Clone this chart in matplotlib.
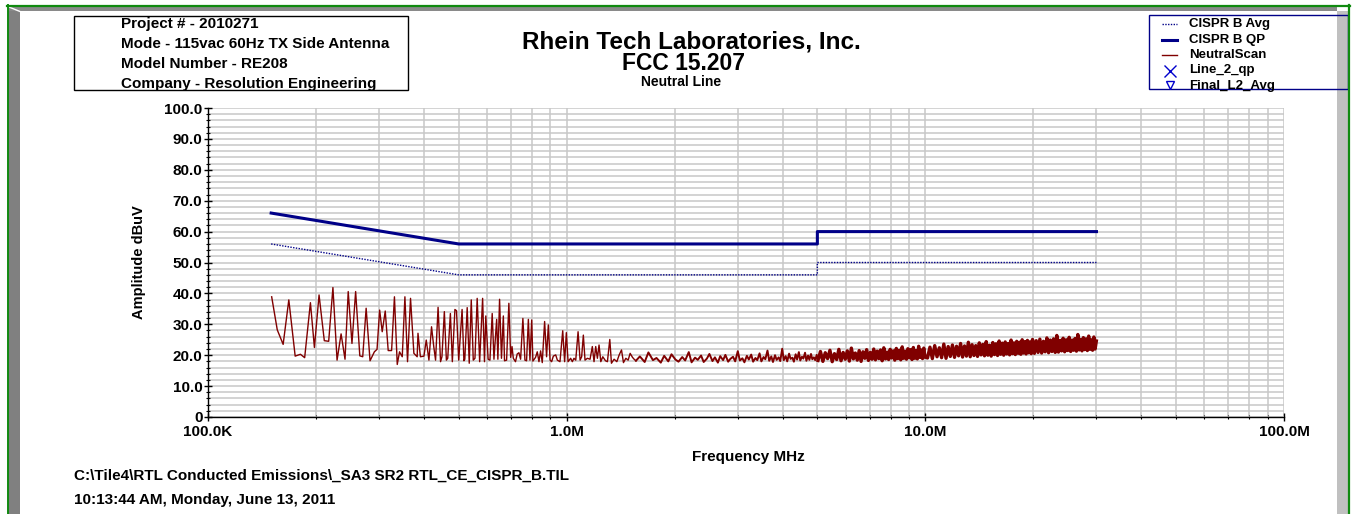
import matplotlib
matplotlib.use('Agg')
import matplotlib.pyplot as plt
from matplotlib.lines import Line2D
from matplotlib.patches import Rectangle
from matplotlib.ticker import FixedLocator, FixedFormatter, MultipleLocator, NullFormatter

plt.rcParams['font.family'] = ['Liberation Sans', 'DejaVu Sans']
plt.rcParams['font.weight'] = 'bold'

# --- limit lines (MHz, dBuV) ---
limit_freq = [0.15, 0.5, 5.0, 5.0, 30.0]
cispr_qp = [66.0, 56.0, 56.0, 60.0, 60.0]
cispr_avg = [56.0, 46.0, 46.0, 50.0, 50.0]

# --- neutral scan ---
scan_freq_a = [0.1505, 0.156, 0.162, 0.168, 0.175, 0.181, 0.186, 0.193, 0.198, 0.204,
               0.211, 0.217, 0.223, 0.229, 0.235, 0.241, 0.246, 0.252, 0.258, 0.265,
               0.270, 0.276, 0.283, 0.291, 0.296, 0.301, 0.306, 0.312, 0.318, 0.325,
               0.331, 0.337, 0.342, 0.348, 0.354, 0.360, 0.367, 0.375, 0.383, 0.385, 0.391]
scan_amp_a = [38.9, 28.2, 23.5, 37.9, 19.7, 20.3, 19.2, 37.0, 22.5, 39.5,
              24.7, 24.5, 41.9, 18.4, 26.9, 18.7, 40.6, 23.8, 40.6, 19.8,
              19.5, 35.2, 18.2, 21.1, 21.9, 34.6, 27.6, 34.3, 21.5, 21.5,
              38.9, 17.0, 21.1, 19.5, 38.9, 17.9, 38.4, 20.6, 19.5, 27.1, 19.5]

scan_freq_b = [0.400, 0.406, 0.413, 0.420, 0.426, 0.431, 0.438, 0.445, 0.449, 0.456,
               0.462, 0.466, 0.474, 0.480, 0.488, 0.493, 0.500, 0.511, 0.517, 0.520,
               0.528, 0.535, 0.542, 0.549, 0.555, 0.563, 0.572, 0.583, 0.590, 0.595,
               0.604, 0.611, 0.620, 0.627, 0.638, 0.643, 0.650, 0.658, 0.666, 0.671,
               0.680, 0.690, 0.698, 0.704, 0.710, 0.720, 0.728, 0.736, 0.744, 0.755,
               0.765, 0.773, 0.782, 0.790, 0.799, 0.805, 0.819, 0.828, 0.837, 0.846,
               0.855, 0.868, 0.879, 0.889, 0.899, 0.908, 0.918, 0.932, 0.942, 0.958,
               0.975, 0.987, 0.998, 1.009, 1.026]
scan_amp_b = [19.7, 24.9, 18.4, 29.2, 22.8, 18.4, 35.5, 17.9, 19.5, 34.1,
              18.4, 19.0, 33.5, 17.9, 34.8, 34.4, 18.4, 34.8, 18.2, 18.7,
              35.4, 17.4, 37.9, 18.4, 19.0, 38.4, 17.9, 38.4, 17.9, 32.7,
              18.7, 18.4, 33.5, 18.7, 31.6, 18.7, 38.1, 19.0, 32.7, 18.2,
              18.4, 36.8, 19.3, 22.8, 19.0, 17.9, 20.4, 20.8, 18.7, 31.9,
              18.4, 18.2, 31.6, 18.4, 31.4, 18.1, 19.3, 21.1, 17.9, 21.4,
              17.6, 30.9, 19.5, 29.8, 18.4, 17.9, 19.7, 20.1, 18.4, 17.9,
              27.9, 17.9, 27.3, 17.9, 19.0]

scan_freq_c = [1.037, 1.048, 1.060, 1.076, 1.090, 1.101, 1.113, 1.125, 1.142, 1.162,
               1.179, 1.192, 1.205, 1.218, 1.231, 1.245, 1.261, 1.283, 1.299, 1.319,
               1.333, 1.356, 1.380, 1.401, 1.422, 1.440, 1.462, 1.484, 1.503, 1.526, 1.542]
scan_amp_c = [17.9, 19.0, 18.4, 27.6, 18.4, 19.5, 26.5, 18.4, 19.0, 18.7,
              22.8, 17.9, 22.8, 19.0, 23.3, 17.9, 19.5, 18.2, 17.9, 25.1,
              17.4, 18.7, 17.9, 20.1, 21.7, 17.6, 19.0, 18.4, 20.6, 19.3, 18.7]

scan_freq_d = [1.56, 1.60, 1.65, 1.69, 1.74, 1.78, 1.83, 1.87, 1.92, 1.96,
               2.01, 2.05, 2.10, 2.14, 2.19, 2.23, 2.28, 2.32, 2.37, 2.41,
               2.46, 2.50, 2.55, 2.59, 2.64, 2.68, 2.73, 2.77, 2.82, 2.86,
               2.91, 2.95, 3.00, 3.04, 3.09, 3.13, 3.18, 3.22, 3.27, 3.31,
               3.36, 3.40, 3.45, 3.49, 3.54, 3.58, 3.63, 3.67, 3.72, 3.76,
               3.81, 3.85, 3.90, 3.94, 3.99, 4.03, 4.08, 4.12, 4.17, 4.21,
               4.26, 4.30, 4.35, 4.39, 4.44, 4.48, 4.53, 4.57, 4.62, 4.66,
               4.71, 4.75, 4.80, 4.84, 4.89, 4.93, 4.98]
scan_amp_d = [18.2, 19.6, 17.8, 20.9, 18.4, 19.1, 17.6, 19.8, 18.0, 20.3,
              18.6, 17.9, 19.4, 18.3, 21.0, 17.7, 19.2, 18.5, 19.9, 17.8,
              18.9, 20.4, 18.1, 19.3, 17.6, 19.7, 18.4, 20.1, 17.9, 18.8,
              19.5, 18.0, 21.3, 18.3, 19.0, 17.7, 19.8, 18.6, 20.2, 17.9,
              19.1, 18.4, 20.6, 18.0, 19.4, 18.7, 21.5, 18.2, 19.6, 17.8,
              20.0, 18.5, 19.3, 18.1, 22.1, 18.4, 19.7, 18.0, 20.5, 18.8,
              19.2, 17.9, 20.3, 18.6, 21.0, 18.3, 19.5, 18.9, 20.8, 18.2,
              19.9, 18.5, 20.4, 18.7, 19.3, 18.4, 20.1]

scan_freq_e = [5.02, 5.10, 5.18, 5.26, 5.34, 5.42, 5.50, 5.58, 5.66, 5.74,
               5.82, 5.90, 5.98, 6.06, 6.14, 6.22, 6.30, 6.38, 6.46, 6.54,
               6.62, 6.70, 6.78, 6.86, 6.94, 7.02, 7.10, 7.18, 7.26, 7.34,
               7.42, 7.50, 7.58, 7.66, 7.74, 7.82, 7.90, 7.98, 8.06, 8.14,
               8.22, 8.30, 8.38, 8.46, 8.54, 8.62, 8.70, 8.78, 8.86, 8.94,
               9.02, 9.10, 9.18, 9.26, 9.34, 9.42, 9.50, 9.58, 9.66, 9.74,
               9.82, 9.90, 9.98]
scan_amp_e = [18.3, 21.2, 18.0, 20.8, 18.9, 21.6, 17.9, 20.5, 18.6, 21.9,
              18.2, 20.9, 18.7, 21.4, 18.1, 22.3, 18.8, 20.7, 18.4, 21.5,
              18.0, 21.1, 19.0, 21.8, 18.3, 20.9, 18.7, 22.0, 18.5, 21.3,
              18.9, 21.7, 18.2, 22.4, 18.8, 21.0, 18.6, 21.9, 19.1, 21.4,
              18.4, 22.2, 18.9, 21.6, 18.5, 22.7, 19.0, 21.3, 18.7, 22.1,
              19.2, 21.8, 18.6, 22.5, 19.0, 21.5, 18.8, 22.9, 19.3, 21.7,
              18.9, 22.3, 19.4]

scan_freq_f = [10.14, 10.30, 10.46, 10.62, 10.78, 10.94, 11.10, 11.26, 11.42, 11.58,
               11.74, 11.90, 12.06, 12.22, 12.38, 12.54, 12.70, 12.86, 13.02, 13.18,
               13.34, 13.50, 13.66, 13.82, 13.98, 14.14, 14.30, 14.46, 14.62, 14.78,
               14.94, 15.10, 15.26, 15.42, 15.58, 15.74, 15.90, 16.06, 16.22, 16.38,
               16.54, 16.70, 16.86, 17.02, 17.18, 17.34, 17.50, 17.66, 17.82, 17.98,
               18.14, 18.30, 18.46, 18.62, 18.78, 18.94, 19.10, 19.26, 19.42, 19.58,
               19.74, 19.90]
scan_amp_f = [19.1, 22.6, 18.9, 23.1, 19.5, 22.4, 19.2, 23.6, 19.0, 22.8,
              19.6, 23.3, 19.3, 22.9, 19.8, 23.8, 19.4, 23.0, 19.7, 24.2,
              19.5, 23.4, 19.9, 23.1, 19.6, 24.0, 20.1, 23.5, 19.8, 24.4,
              20.0, 23.2, 19.7, 24.1, 20.2, 23.7, 19.9, 24.6, 20.3, 23.9,
              20.0, 24.3, 20.4, 23.8, 20.1, 24.9, 20.5, 24.0, 20.2, 24.5,
              20.6, 24.2, 20.3, 25.0, 20.7, 24.4, 20.4, 24.8, 20.8, 24.3,
              20.5, 25.1]

scan_freq_g = [20.14, 20.38, 20.62, 20.86, 21.10, 21.34, 21.58, 21.82, 22.06, 22.30,
               22.54, 22.78, 23.02, 23.26, 23.50, 23.74, 23.98, 24.22, 24.46, 24.70,
               24.94, 25.18, 25.42, 25.66, 25.90, 26.14, 26.38, 26.62, 26.86, 27.10,
               27.34, 27.58, 27.82, 28.06, 28.30, 28.54, 28.78, 29.02, 29.26, 29.50,
               29.74, 29.98]
scan_amp_g = [20.6, 24.7, 20.9, 25.2, 20.7, 24.5, 21.1, 25.6, 20.8, 24.9,
              21.2, 25.3, 20.9, 26.4, 21.0, 24.8, 21.4, 25.5, 21.1, 25.0,
              21.5, 25.8, 21.2, 24.9, 21.6, 25.4, 21.3, 26.7, 21.7, 25.1,
              21.4, 25.7, 21.8, 25.3, 21.5, 26.2, 21.9, 25.0, 21.6, 25.9,
              22.0, 24.6]

x_major = [0.1, 1.0, 10.0, 100.0]
x_major_labels = ['100.0K', '1.0M', '10.0M', '100.0M']
y_major = [0, 10, 20, 30, 40, 50, 60, 70, 80, 90, 100]
y_major_labels = ['0', '10.0', '20.0', '30.0', '40.0', '50.0', '60.0', '70.0', '80.0', '90.0', '100.0']

info_lines = ['Project # - 2010271', 'Mode - 115vac 60Hz TX Side Antenna',
              'Model Number - RE208', 'Company - Resolution Engineering']
legend_labels = ['CISPR B Avg', 'CISPR B QP', 'NeutralScan', 'Line_2_qp', 'Final_L2_Avg']

NAVY = '#000088'
MAROON = '#800000'

W, H = 1352, 514


def fx(px):
    return px / W


def fy(py):
    return 1 - py / H


# sparse spiky part and the dense noise floor (drawn heavier so it reads as a band)
low_freq = scan_freq_a + scan_freq_b + scan_freq_c + scan_freq_d[:1]
low_amp = scan_amp_a + scan_amp_b + scan_amp_c + scan_amp_d[:1]
mid_freq = scan_freq_d + scan_freq_e[:1]
mid_amp = scan_amp_d + scan_amp_e[:1]
hi_freq = scan_freq_e + scan_freq_f + scan_freq_g
hi_amp = scan_amp_e + scan_amp_f + scan_amp_g

fig = plt.figure(figsize=(W / 100, H / 100), dpi=100)

# window frame (green border + grey bevel)
tf = fig.transFigure
fig.add_artist(Rectangle((fx(8), fy(514)), 12 / W, 507 / H, transform=tf, color='#808080', lw=0))
fig.add_artist(Rectangle((fx(8), fy(11)), 1329 / W, 4.5 / H, transform=tf, color='#8a8a8a', lw=0))
fig.add_artist(Rectangle((fx(1337), fy(514)), 11 / W, 503 / H, transform=tf, color='#c0c0c0', lw=0))
fig.add_artist(Line2D([fx(9), fx(20)], [fy(7), fy(11.5)], transform=tf, color='white', lw=1))
fig.add_artist(Line2D([fx(7), fx(1350)], [fy(5.5)] * 2, transform=tf, color='#108a10', lw=1.6))
fig.add_artist(Line2D([fx(7.5)] * 2, [fy(5), fy(514)], transform=tf, color='#108a10', lw=1.4))
fig.add_artist(Line2D([fx(1348.5)] * 2, [fy(5), fy(514)], transform=tf, color='#108a10', lw=1.6))

ax = fig.add_axes([fx(208), fy(417), (1284 - 208) / W, (417 - 108) / H])
ax.set_xscale('log')
ax.plot(low_freq, low_amp, color=MAROON, lw=1.0, zorder=3)
ax.plot(mid_freq, mid_amp, color=MAROON, lw=1.4, zorder=3)
ax.plot(hi_freq, hi_amp, color=MAROON, lw=2.4, zorder=3)
ax.plot(limit_freq, cispr_avg, color=NAVY, lw=1.0, ls=(0, (1, 1)), zorder=4)
ax.plot(limit_freq, cispr_qp, color=NAVY, lw=2.2, zorder=4)

ax.set_xlim(0.1, 100)
ax.set_ylim(0, 100)
ax.xaxis.set_major_locator(FixedLocator(x_major))
ax.xaxis.set_major_formatter(FixedFormatter(x_major_labels))
minors = [m * d for d in [0.1, 1, 10] for m in range(2, 10)]
ax.xaxis.set_minor_locator(FixedLocator(minors))
ax.xaxis.set_minor_formatter(NullFormatter())
ax.yaxis.set_major_locator(FixedLocator(y_major))
ax.yaxis.set_major_formatter(FixedFormatter(y_major_labels))
ax.yaxis.set_minor_locator(MultipleLocator(2))

ax.grid(which='both', color='#c8c8c8', lw=1.1)
ax.set_axisbelow(True)
for s in ['top', 'right']:
    ax.spines[s].set_visible(False)
for s in ['left', 'bottom']:
    ax.spines[s].set_color('black')
    ax.spines[s].set_linewidth(1.0)
ax.tick_params(which='major', direction='inout', length=6, width=1, colors='black', labelsize=11, pad=1)
ax.tick_params(axis='x', which='major', pad=3)
ax.tick_params(which='minor', direction='inout', length=3.5, width=0.8, colors='black')

# titles
fig.text(fx(691), fy(42), 'Rhein Tech Laboratories, Inc.', ha='center', va='center', fontsize=17.5)
fig.text(fx(684), fy(64), 'FCC 15.207', ha='center', va='center', fontsize=16.5)
fig.text(fx(681), fy(82), 'Neutral Line', ha='center', va='center', fontsize=10)

# axis labels
fig.text(fx(139), fy(262), 'Amplitude dBuV', rotation=90, ha='center', va='center', fontsize=10.5)
fig.text(fx(748), fy(457), 'Frequency MHz', ha='center', va='center', fontsize=11)

# info box
fig.add_artist(Rectangle((fx(74), fy(90)), (408 - 74) / W, (90 - 16) / H, transform=tf,
                         fill=False, edgecolor='black', lw=1.0))
for i, line in enumerate(info_lines):
    fig.text(fx(121), fy(24 + i * 20), line, ha='left', va='center', fontsize=11)

# legend
leg_y = [24, 39.5, 55, 70.5, 86]
for i, lab in enumerate(legend_labels):
    fig.text(fx(1189), fy(leg_y[i]), lab, ha='left', va='center', fontsize=9.5)
fig.add_artist(Line2D([fx(1162), fx(1177)], [fy(leg_y[0])] * 2, transform=tf, color=NAVY, lw=1, ls=(0, (1, 1))))
fig.add_artist(Line2D([fx(1162), fx(1177)], [fy(leg_y[1])] * 2, transform=tf, color=NAVY, lw=2.2))
fig.add_artist(Line2D([fx(1162), fx(1177)], [fy(leg_y[2])] * 2, transform=tf, color=MAROON, lw=1))
fig.add_artist(Line2D([fx(1169.5)], [fy(leg_y[3])], transform=tf, color='#0000cc', marker='x', ms=8, mew=1, ls='none'))
fig.add_artist(Line2D([fx(1169.5)], [fy(leg_y[4] - 1)], transform=tf, color='#0000cc', marker='v', ms=6,
                      mfc='none', mew=1, ls='none'))
fig.add_artist(Rectangle((fx(1149), fy(89)), (1348 - 1149) / W, (89 - 15) / H, transform=tf,
                         fill=False, edgecolor=NAVY, lw=1.0))

# footer
fig.text(fx(74), fy(476), r'C:\Tile4\RTL Conducted Emissions\_SA3 SR2 RTL_CE_CISPR_B.TIL', ha='left', va='center', fontsize=11)
fig.text(fx(74), fy(500), '10:13:44 AM, Monday, June 13, 2011', ha='left', va='center', fontsize=11)

fig.savefig('out.png', dpi=100)
